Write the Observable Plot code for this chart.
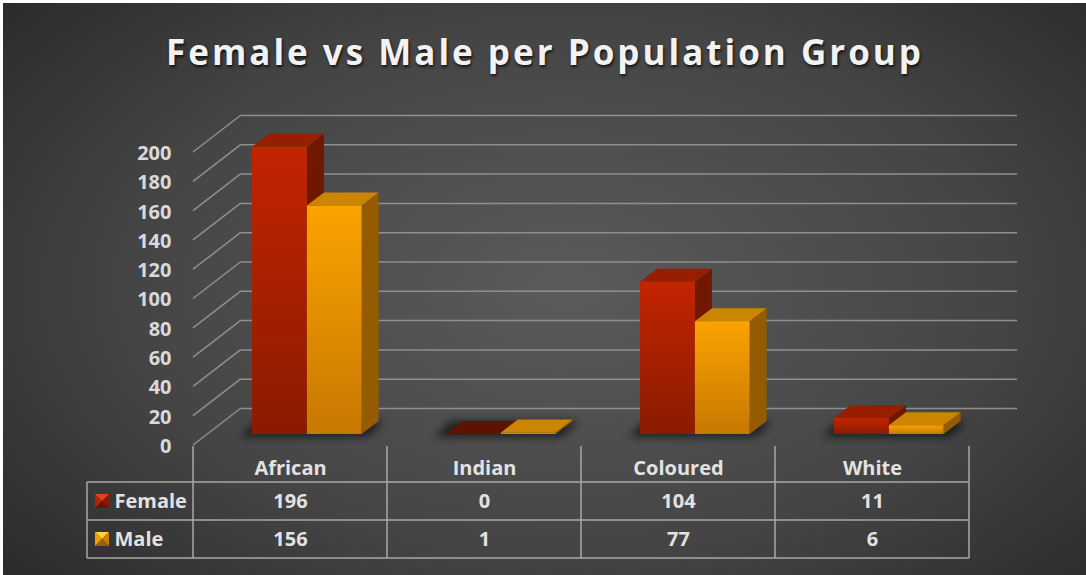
<!DOCTYPE html>
<html>
<head>
<meta charset="utf-8">
<script src="https://cdn.jsdelivr.net/npm/d3@7"></script>
<script src="https://cdn.jsdelivr.net/npm/@observablehq/plot@0.6"></script>
<style>
  html, body { margin: 0; padding: 0; background: #ffffff; }
  #chart {
    position: relative; width: 1086px; height: 575px; overflow: hidden;
    background: radial-gradient(ellipse 72% 82% at 52% 50%, #5b5b5b 0%, #454545 55%, #272727 100%);
    box-shadow: inset 3px 3px 0 #ffffff;
  }
  #chart svg { position: absolute; left: 0; top: 0; }
  #title {
    position: absolute; left: 2px; width: 1086px; top: 27px; text-align: center;
    font-family: "Open Sans", sans-serif; font-weight: 700; font-size: 35px;
    letter-spacing: 3px; color: #f2f2f2;
    text-shadow: 1px 2px 3px rgba(0,0,0,0.75);
    line-height: 50px; z-index: 2; white-space: nowrap;
  }
</style>
</head>
<body>
<div id="chart"><div id="title"></div></div>
<script>
// ---- data ----
const title = "Female vs Male per Population Group";
const categories = ["African", "Indian", "Coloured", "White"];
const series = ["Female", "Male"];
const female = [196, 0, 104, 11];
const male = [156, 1, 77, 6];
const yTicks = [0, 20, 40, 60, 80, 100, 120, 140, 160, 180, 200];

// ---- layout / style constants ----
const FLOOR = {dx: 48, dy: -37};
const BAR = {dx: 14, dy: -11, depthX: 17, depthY: -13};
const slot = {Female: [0.232, 0.515], Male: [0.515, 0.797]};
const palette = {
  Female: {front: ["#c32400", "#8a1b00"], side: "#701700", top: "#981e00", flat: "#5c1300",
           key: ["#e8431c", "#b52300", "#8a1900", "#6a1200"]},
  Male: {front: ["#fca300", "#c67800"], side: "#945b00", top: "#cb8500", flat: "#c47e00",
         key: ["#ffd23a", "#f0a000", "#c88000", "#9a6000"]}
};
const gridColor = "#8f8f8f";
const tableColor = "#a9a9a9";
const textColor = "#e2e2e2";
const font = "'Open Sans', sans-serif";

const rows = categories.map((c, i) => ({category: c, index: i, Female: female[i], Male: male[i]}));

document.getElementById("title").textContent = title;

// diagonal floor/side-wall lines from the front axis to the back wall
function sideGrid(index, {x, y}) {
  const g = d3.create("svg:g").attr("stroke", gridColor).attr("stroke-width", 1.5).attr("fill", "none");
  for (const t of yTicks) {
    const x0 = x(0), y0 = y(t);
    g.append("line").attr("x1", x0).attr("y1", y0).attr("x2", x0 + FLOOR.dx).attr("y2", y0 + FLOOR.dy);
  }
  return g.node();
}

// 3D columns drawn through the x / y scales
function bars3d(index, {x, y}) {
  const g = d3.create("svg:g");
  const defs = g.append("defs");
  for (const s of series) {
    const lg = defs.append("linearGradient").attr("id", "grad" + s)
      .attr("x1", 0).attr("y1", 0).attr("x2", 0).attr("y2", 1);
    lg.append("stop").attr("offset", "0%").attr("stop-color", palette[s].front[0]);
    lg.append("stop").attr("offset", "100%").attr("stop-color", palette[s].front[1]);
  }
  defs.append("filter").attr("id", "barShadow").attr("x", "-50%").attr("y", "-50%").attr("width", "200%").attr("height", "200%")
    .append("feGaussianBlur").attr("stdDeviation", 4);

  const pts = a => a.map(p => p.join(",")).join(" ");
  for (const r of rows) {
    // soft shadow on the floor
    const sl = x(r.index + slot.Female[0]) + BAR.dx - 12, sr = x(r.index + slot.Male[1]) + BAR.dx + 6;
    const yb0 = y(0) + BAR.dy;
    g.append("polygon")
      .attr("points", pts([[sl, yb0 + 3], [sr, yb0 + 3], [sr + BAR.depthX, yb0 + BAR.depthY], [sl + BAR.depthX, yb0 + BAR.depthY]]))
      .attr("fill", "rgba(0,0,0,0.6)").attr("filter", "url(#barShadow)");
    for (const s of series) {
      const v = r[s];
      const xl = x(r.index + slot[s][0]) + BAR.dx, xr = x(r.index + slot[s][1]) + BAR.dx;
      const yb = y(0) + BAR.dy, yt = y(v) + BAR.dy;
      const dX = BAR.depthX, dY = BAR.depthY;
      if (yb - yt > 0.5) {
        g.append("polygon").attr("points", pts([[xr, yt], [xr + dX, yt + dY], [xr + dX, yb + dY], [xr, yb]]))
          .attr("fill", palette[s].side);
        g.append("polygon").attr("points", pts([[xl, yt], [xr, yt], [xr + dX, yt + dY], [xl + dX, yt + dY]]))
          .attr("fill", palette[s].top);
        g.append("rect").attr("x", xl).attr("y", yt).attr("width", xr - xl).attr("height", yb - yt)
          .attr("fill", `url(#grad${s})`);
      } else {
        g.append("polygon").attr("points", pts([[xl, yt], [xr, yt], [xr + dX, yt + dY], [xl + dX, yt + dY]]))
          .attr("fill", palette[s].flat);
      }
    }
  }
  return g.node();
}

// data table grid below the floor
function tableGrid(index, {x, y}) {
  const y0 = y(0);
  const top = y0 + 1, r1 = y0 + 37, r2 = y0 + 75, r3 = y0 + 113;
  const left = x(0) - 106, right = x(categories.length);
  const g = d3.create("svg:g").attr("stroke", tableColor).attr("stroke-width", 1.5).attr("fill", "none");
  for (let k = 0; k <= categories.length; k++) {
    g.append("line").attr("x1", x(k)).attr("x2", x(k)).attr("y1", top).attr("y2", r3);
  }
  g.append("line").attr("x1", left).attr("x2", left).attr("y1", r1).attr("y2", r3);
  for (const yy of [r1, r2, r3]) g.append("line").attr("x1", left).attr("x2", right).attr("y1", yy).attr("y2", yy);
  return g.node();
}

// legend keys inside the table
function legendKeys(index, {x, y}) {
  const g = d3.create("svg:g");
  const size = 14;
  series.forEach((s, j) => {
    const cx = x(0) - 91, cy = y(0) + 56 + j * 38;
    const l = cx - size / 2, t = cy - size / 2, r = cx + size / 2, b = cy + size / 2;
    const c = palette[s].key;
    const pts = a => a.map(p => p.join(",")).join(" ");
    g.append("polygon").attr("points", pts([[l, t], [r, t], [cx, cy]])).attr("fill", c[0]);
    g.append("polygon").attr("points", pts([[l, t], [cx, cy], [l, b]])).attr("fill", c[1]);
    g.append("polygon").attr("points", pts([[r, t], [r, b], [cx, cy]])).attr("fill", c[2]);
    g.append("polygon").attr("points", pts([[l, b], [cx, cy], [r, b]])).attr("fill", c[3]);
  });
  return g.node();
}

const textStyle = {fontFamily: font, fontWeight: "bold", fontSize: 20, fill: textColor};

const chart = Plot.plot({
  width: 1086,
  height: 575,
  marginLeft: 193,
  marginRight: 117,
  marginTop: 152,
  marginBottom: 130,
  x: {domain: [0, categories.length], axis: null},
  y: {domain: [0, 200], axis: null},
  style: {background: "transparent", overflow: "visible", fontFamily: font},
  marks: [
    Plot.ruleY(yTicks, {y: d => d, dx: FLOOR.dx, dy: FLOOR.dy, stroke: gridColor, strokeWidth: 1.5}),
    sideGrid,
    bars3d,
    tableGrid,
    legendKeys,
    Plot.text(yTicks, {x: () => 0, y: d => d, text: d => String(d), dx: -22, dy: 1, textAnchor: "end", ...textStyle, fill: "#d9d9d9"}),
    Plot.text(categories, {x: (d, i) => i + 0.5, y: () => 0, text: d => d, dy: 23, ...textStyle}),
    Plot.text(female, {x: (d, i) => i + 0.5, y: () => 0, text: d => String(d), dy: 56, ...textStyle}),
    Plot.text(male, {x: (d, i) => i + 0.5, y: () => 0, text: d => String(d), dy: 94, ...textStyle}),
    Plot.text([series[0]], {x: () => 0, y: () => 0, text: d => d, dx: -79, dy: 56, textAnchor: "start", ...textStyle}),
    Plot.text([series[1]], {x: () => 0, y: () => 0, text: d => d, dx: -79, dy: 94, textAnchor: "start", ...textStyle})
  ]
});

document.getElementById("chart").appendChild(chart);
</script>
</body>
</html>
